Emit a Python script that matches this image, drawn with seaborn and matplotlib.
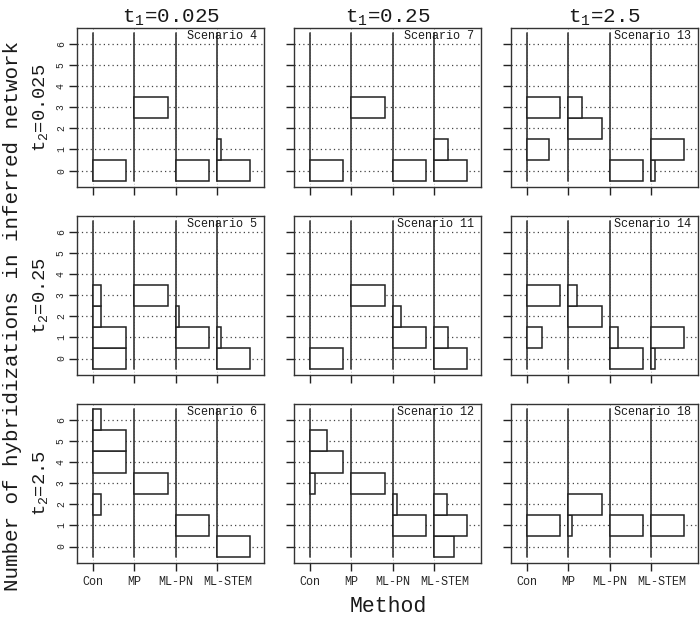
import numpy as np
import pandas as pd
import matplotlib
matplotlib.use("Agg")
import matplotlib.pyplot as plt
import matplotlib.transforms as mtransforms
import seaborn as sns

methods = ["Con", "MP", "ML-PN", "ML-STEM"]
levels = [0, 1, 2, 3, 4, 5, 6]
t1_labels = ["0.025", "0.25", "2.5"]
t2_labels = ["0.025", "0.25", "2.5"]
scenario_grid = [[4, 7, 13], [5, 11, 14], [6, 12, 18]]

# relative bar length (longest = 1) for 0..6 hybridizations, per method
sc4 = {"Con": [1, 0, 0, 0, 0, 0, 0], "MP": [0, 0, 0, 1, 0, 0, 0],
       "ML-PN": [1, 0, 0, 0, 0, 0, 0], "ML-STEM": [1, 0.13, 0, 0, 0, 0, 0]}
sc7 = {"Con": [1, 0, 0, 0, 0, 0, 0], "MP": [0, 0, 0, 1, 0, 0, 0],
       "ML-PN": [1, 0, 0, 0, 0, 0, 0], "ML-STEM": [1, 0.43, 0, 0, 0, 0, 0]}
sc13 = {"Con": [0, 0.66, 0, 1, 0, 0, 0], "MP": [0, 0, 1, 0.42, 0, 0, 0],
        "ML-PN": [1, 0, 0, 0, 0, 0, 0], "ML-STEM": [0.11, 1, 0, 0, 0, 0, 0]}
sc5 = {"Con": [1, 1, 0.25, 0.25, 0, 0, 0], "MP": [0, 0, 0, 1, 0, 0, 0],
       "ML-PN": [0, 1, 0.11, 0, 0, 0, 0], "ML-STEM": [1, 0.13, 0, 0, 0, 0, 0]}
sc11 = {"Con": [1, 0, 0, 0, 0, 0, 0], "MP": [0, 0, 0, 1, 0, 0, 0],
        "ML-PN": [0, 1, 0.26, 0, 0, 0, 0], "ML-STEM": [1, 0.43, 0, 0, 0, 0, 0]}
sc14 = {"Con": [0, 0.44, 0, 1, 0, 0, 0], "MP": [0, 0, 1, 0.25, 0, 0, 0],
        "ML-PN": [1, 0.25, 0, 0, 0, 0, 0], "ML-STEM": [0.11, 1, 0, 0, 0, 0, 0]}
sc6 = {"Con": [0, 0, 0.25, 0, 1, 1, 0.25], "MP": [0, 0, 0, 1, 0, 0, 0],
       "ML-PN": [0, 1, 0, 0, 0, 0, 0], "ML-STEM": [1, 0, 0, 0, 0, 0, 0]}
sc12 = {"Con": [0, 0, 0, 0.16, 1, 0.5, 0], "MP": [0, 0, 0, 1, 0, 0, 0],
        "ML-PN": [0, 1, 0.12, 0, 0, 0, 0], "ML-STEM": [0.6, 1, 0.4, 0, 0, 0, 0]}
sc18 = {"Con": [0, 1, 0, 0, 0, 0, 0], "MP": [0, 0.12, 1, 0, 0, 0, 0],
        "ML-PN": [0, 1, 0, 0, 0, 0, 0], "ML-STEM": [0, 1, 0, 0, 0, 0, 0]}

scenario_data = {4: sc4, 7: sc7, 13: sc13, 5: sc5, 11: sc11, 14: sc14,
                 6: sc6, 12: sc12, 18: sc18}

rows = []
for i, t2 in enumerate(t2_labels):
    for j, t1 in enumerate(t1_labels):
        sc = scenario_grid[i][j]
        for m in methods:
            for lev, f in zip(levels, scenario_data[sc][m]):
                rows.append(dict(t1=t1, t2=t2, scenario=sc, method=m,
                                 level=lev, freq=f))
df = pd.DataFrame(rows)

sns.set_style("ticks")
plt.rcParams["font.family"] = ["Liberation Mono", "DejaVu Sans Mono"]
plt.rcParams["mathtext.fontset"] = "custom"
plt.rcParams["mathtext.rm"] = "Liberation Mono"
plt.rcParams["mathtext.it"] = "Liberation Mono"
plt.rcParams["mathtext.default"] = "rm"
plt.rcParams["text.color"] = "#1a1a1a"

BAR_MAX = 0.81
pos = {m: k + 1 for k, m in enumerate(methods)}


def draw_panel(data, **kws):
    ax = plt.gca()
    for lev in levels:
        ax.axhline(lev, color="#444444", lw=0.9, ls=(0, (1, 2.5)), zorder=0)
    for m in methods:
        ax.axvline(pos[m], color="#aaaaaa", lw=0.6, ls=(0, (1, 2.5)), zorder=0)
        ax.plot([pos[m], pos[m]], [-0.5, 6.5], color="#333333", lw=1.2, zorder=2)
        d = data[(data["method"] == m) & (data["freq"] > 0)]
        ax.barh(d["level"], d["freq"] * BAR_MAX, left=pos[m], height=1.0,
                color="white", edgecolor="#222222", linewidth=1.1, zorder=3)
    sc = data["scenario"].iloc[0]
    ax.text(0.963, 0.95, f"Scenario {sc}", transform=ax.transAxes,
            ha="right", va="center", fontsize=8.5, zorder=5)


g = sns.FacetGrid(df, row="t2", col="t1", row_order=t2_labels,
                  col_order=t1_labels, sharex=True, sharey=True,
                  height=2, aspect=1.17, despine=False)
g.map_dataframe(draw_panel)
g.set_titles("")
g.set_axis_labels("", "")
g.set(xlim=(0.613, 5.14), ylim=(-0.78, 6.75))

fig = g.figure
for ax in g.axes.flat:
    ax.set_xticks([pos[m] for m in methods])
    ax.set_xticklabels(methods)
    ax.set_yticks(levels)
    ax.set_yticklabels([str(l) for l in levels])
    ax.tick_params(axis="both", direction="out", length=6, width=1,
                   color="#222222", labelsize=8.5, pad=3)
    ax.tick_params(axis="y", labelsize=7, labelrotation=90, pad=2)
    for s in ax.spines.values():
        s.set_color("#333333")
        s.set_linewidth(1.0)
    ax.grid(False)
for ax in g.axes[:-1, :].flat:
    ax.tick_params(labelbottom=False)
for ax in g.axes[:, 1:].flat:
    ax.tick_params(labelleft=False)
for ax in g.axes[:, 0]:
    for lab in ax.get_yticklabels():
        lab.set_va("center")
for ax in g.axes[-1, :]:
    labs = ax.get_xticklabels()
    shift = mtransforms.ScaledTranslation(11 / 100, 0, fig.dpi_scale_trans)
    labs[-1].set_transform(labs[-1].get_transform() + shift)

fig.set_size_inches(7.0, 6.18)
fig.subplots_adjust(left=77 / 700, right=698 / 700, top=1 - 28 / 618,
                    bottom=1 - 563 / 618, wspace=0.16, hspace=0.182)

for j, t1 in enumerate(t1_labels):
    ax = g.axes[0, j]
    ax.set_title(f"t$_1$={t1}", fontsize=15, pad=3)
for i, t2 in enumerate(t2_labels):
    ax = g.axes[i, 0]
    bb = ax.get_position()
    fig.text(41 / 700, (bb.y0 + bb.y1) / 2, f"t$_2$={t2}", rotation=90,
             ha="center", va="center", fontsize=13.5)

fig.text(388 / 700, 1 - 606 / 618, "Method", ha="center", va="center",
         fontsize=15.5)
fig.text(13 / 700, 1 - 316 / 618, "Number of hybridizations in inferred network",
         rotation=90, ha="center", va="center", fontsize=15)

fig.savefig("out.png", dpi=100)
